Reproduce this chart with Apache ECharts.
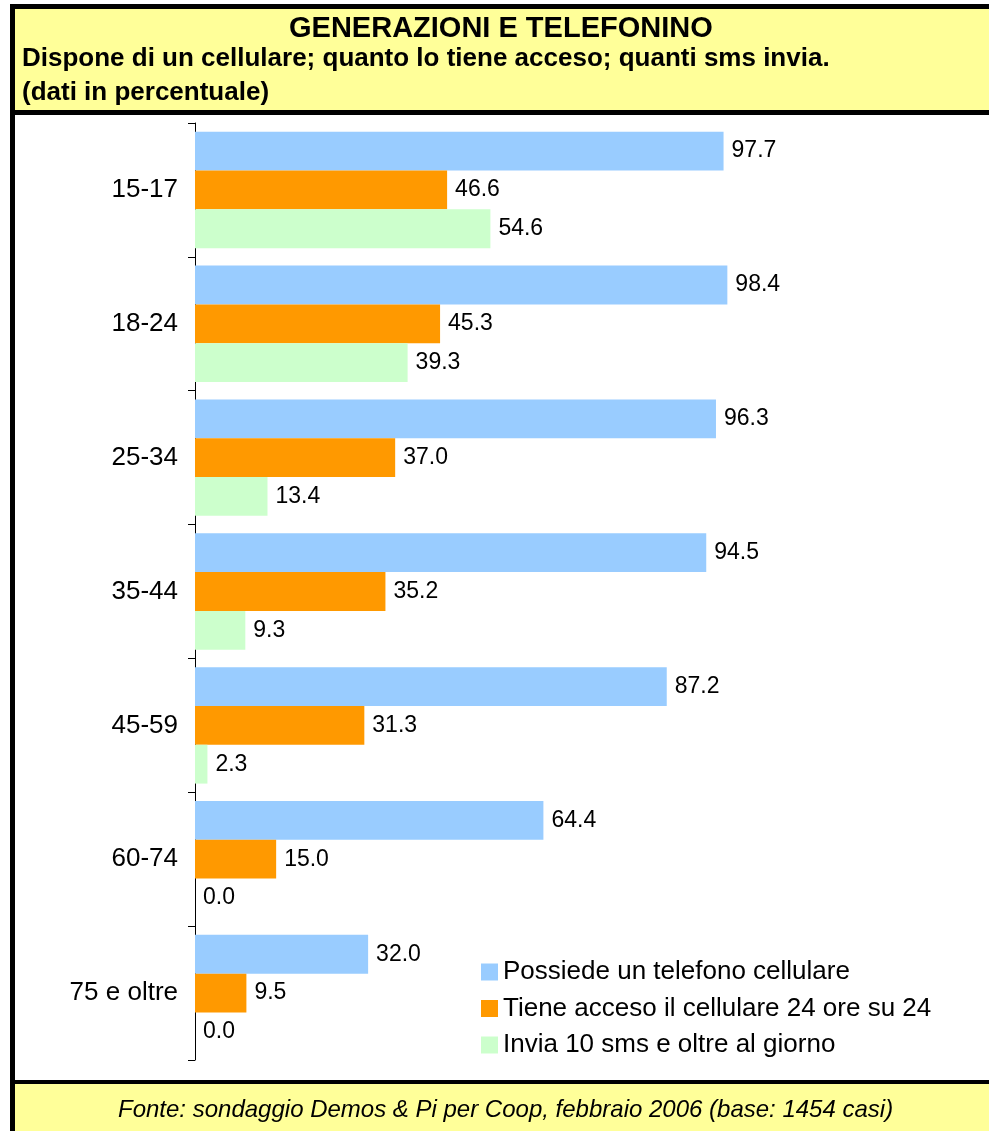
<!DOCTYPE html>
<html>
<head>
<meta charset="utf-8">
<script src="https://cdn.jsdelivr.net/npm/echarts@6/dist/echarts.min.js"></script>
<style>
html,body{margin:0;padding:0;background:#fff;}
#chart{width:989px;height:1131px;}
</style>
</head>
<body>
<div id="chart"></div>
<script>
const categories = ['15-17','18-24','25-34','35-44','45-59','60-74','75 e oltre'];
const seriesNames = ['Possiede un telefono cellulare','Tiene acceso il cellulare 24 ore su 24','Invia 10 sms e oltre al giorno'];
const possiede = [97.7, 98.4, 96.3, 94.5, 87.2, 64.4, 32.0];
const acceso = [46.6, 45.3, 37.0, 35.2, 31.3, 15.0, 9.5];
const sms = [54.6, 39.3, 13.4, 9.3, 2.3, 0.0, 0.0];
const colors = ['#99CCFF','#FF9900','#CCFFCC'];
const titleText = 'GENERAZIONI E TELEFONINO';
const subtitle1 = 'Dispone di un cellulare; quanto lo tiene acceso; quanti sms invia.';
const subtitle2 = '(dati in percentuale)';
const footerText = 'Fonte: sondaggio Demos & Pi per Coop, febbraio 2006 (base: 1454 casi)';

const font = 'Liberation Sans, Arial, sans-serif';
const chart = echarts.init(document.getElementById('chart'), null, {renderer:'canvas'});

function barSeries(name, data, color){
  return {
    name: name, type: 'bar', data: data,
    barGap: '0%', barCategoryGap: '13%',
    itemStyle: {color: color},
    label: {show: true, position: 'right', distance: 8, color: '#000',
      fontFamily: font, fontSize: 23,
      formatter: p => Number(p.value).toFixed(1)},
    emphasis: {disabled: true}
  };
}

chart.setOption({
  animation: false,
  backgroundColor: '#fff',
  graphic: [
    {type:'rect', shape:{x:15,y:9,width:980,height:101}, style:{fill:'#FFFF99'}, z:-10},
    {type:'rect', shape:{x:10,y:4,width:985,height:5}, style:{fill:'#000'}, z:-5},
    {type:'rect', shape:{x:10,y:4,width:5,height:1131}, style:{fill:'#000'}, z:-5},
    {type:'rect', shape:{x:10,y:110,width:985,height:5}, style:{fill:'#000'}, z:-5},
    {type:'rect', shape:{x:15,y:1084,width:980,height:50}, style:{fill:'#FFFF99'}, z:-10},
    {type:'rect', shape:{x:10,y:1080,width:985,height:4}, style:{fill:'#000'}, z:-5},
    {type:'text', left: 289, top: 14, style:{text:titleText, font:'bold 29px ' + font, fill:'#000'}},
    {type:'text', left: 22, top: 46, style:{text:subtitle1, font:'bold 26px ' + font, fill:'#000'}},
    {type:'text', left: 22, top: 80, style:{text:subtitle2, font:'bold 26px ' + font, fill:'#000'}},
    {type:'text', left: 118, top: 1098, style:{text:footerText, font:'italic 24px ' + font, fill:'#000'}}
  ],
  legend: {
    orient: 'vertical', left: 476, top: 954,
    itemWidth: 17, itemHeight: 17, itemGap: 10.5,
    icon: 'rect',
    textStyle: {fontFamily: font, fontSize: 26, color: '#000'},
    data: seriesNames
  },
  grid: {left: 195, top: 123, width: 541, height: 937, containLabel: false},
  xAxis: {type: 'value', min: 0, max: 100, show: false},
  yAxis: {
    type: 'category', data: categories, inverse: true,
    axisLine: {show: true, lineStyle: {color: '#000', width: 1}},
    axisTick: {show: true, length: 7, lineStyle: {color: '#000'}},
    axisLabel: {color: '#000', fontFamily: font, fontSize: 26, margin: 17},
    splitLine: {show: false}
  },
  series: [
    barSeries(seriesNames[0], possiede, colors[0]),
    barSeries(seriesNames[1], acceso, colors[1]),
    barSeries(seriesNames[2], sms, colors[2])
  ]
});
</script>
</body>
</html>
